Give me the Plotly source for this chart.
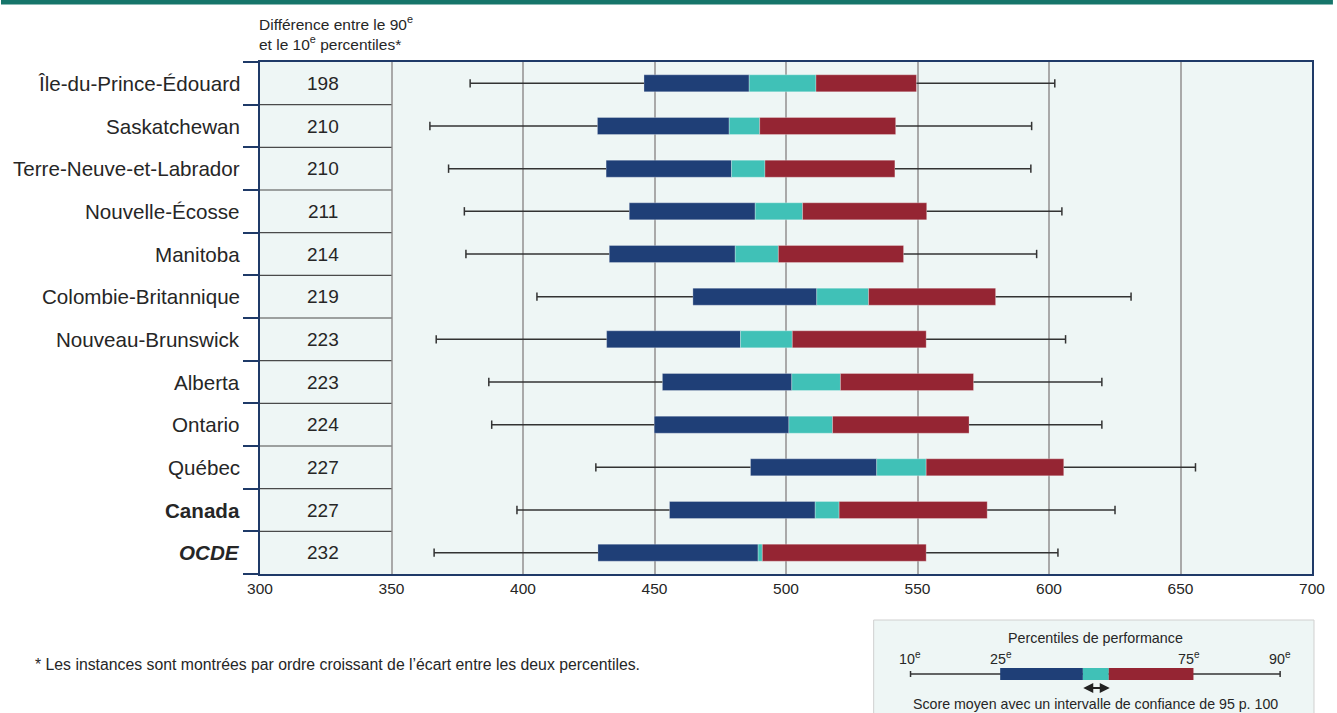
import plotly.graph_objects as go

# ---------------- data ----------------
labels = ["Île-du-Prince-Édouard", "Saskatchewan", "Terre-Neuve-et-Labrador",
          "Nouvelle-Écosse", "Manitoba", "Colombie-Britannique",
          "Nouveau-Brunswick", "Alberta", "Ontario", "Québec", "Canada", "OCDE"]
label_html = labels[:10] + ["<b>Canada</b>", "<b><i>OCDE</i></b>"]
diff = [198, 210, 210, 211, 214, 219, 223, 223, 224, 227, 227, 232]
p10 = [379.9, 364.6, 371.7, 377.7, 378.3, 405.3, 367.0, 387.0, 388.1, 427.7, 397.7, 366.2]
p25 = [446.0, 428.3, 431.6, 440.4, 432.8, 464.6, 431.8, 453.0, 449.9, 486.5, 455.7, 428.5]
ci_lo = [486.0, 478.4, 479.3, 488.3, 480.7, 511.7, 482.7, 502.2, 501.1, 534.5, 511.1, 489.4]
ci_hi = [511.4, 490.0, 492.0, 506.3, 497.1, 531.4, 502.4, 520.7, 517.7, 553.3, 520.2, 491.0]
p75 = [549.6, 541.7, 541.4, 553.5, 544.7, 579.7, 553.3, 571.3, 569.6, 605.6, 576.5, 553.3]
p90 = [602.2, 593.4, 593.1, 604.9, 595.3, 631.2, 606.3, 620.1, 620.1, 655.7, 625.1, 603.4]
x_ticks = [300, 350, 400, 450, 500, 550, 600, 650, 700]

# ---------------- style ----------------
W, H = 1337, 713
L, R, T, B = 260, 1316, 62, 574
BLUE = "#1F3F77"
TEAL = "#40C1B7"
RED = "#952533"
NAVY = "#1F3A68"
BG = "#EEF6F5"
FONT = "Liberation Sans"
TXT = "#262626"
WH = "#333333"

def px_x(px):
    return (px - L) / (R - L)

def px_y(py):
    return (B - py) / (B - T)

ys = list(range(len(labels)))

fig = go.Figure()

seg_line = dict(color="rgba(255,255,255,0.35)", width=0.8)
fig.add_trace(go.Bar(y=ys, x=[b - a for a, b in zip(p25, ci_lo)], base=p25,
                     orientation="h", width=0.4, marker=dict(color=BLUE, line=seg_line),
                     showlegend=False, hoverinfo="skip"))
fig.add_trace(go.Bar(y=ys, x=[b - a for a, b in zip(ci_lo, ci_hi)], base=ci_lo,
                     orientation="h", width=0.4, marker=dict(color=TEAL, line=seg_line),
                     showlegend=False, hoverinfo="skip"))
fig.add_trace(go.Bar(y=ys, x=[b - a for a, b in zip(ci_hi, p75)], base=ci_hi,
                     orientation="h", width=0.4, marker=dict(color=RED, line=seg_line),
                     showlegend=False, hoverinfo="skip"))

# whiskers
wx, wy = [], []
for i in ys:
    wx += [p10[i], p25[i], None, p75[i], p90[i], None]
    wy += [i, i, None, i, i, None]
fig.add_trace(go.Scatter(x=wx, y=wy, mode="lines", line=dict(color=WH, width=1.5),
                         showlegend=False, hoverinfo="skip"))
fig.add_trace(go.Scatter(x=p10 + p90, y=ys + ys, mode="markers",
                         marker=dict(symbol="line-ns", size=6, line=dict(color=WH, width=1.5)),
                         showlegend=False, hoverinfo="skip"))

fig.update_layout(
    width=W, height=H,
    margin=dict(l=L, r=W - R, t=T, b=H - B, pad=0),
    paper_bgcolor="white", plot_bgcolor=BG,
    barmode="overlay",
    font=dict(family=FONT, color=TXT),
    xaxis=dict(range=[300, 700], tickvals=x_ticks, ticktext=[str(v) for v in x_ticks],
               showgrid=True, gridcolor="#A9A9A9", gridwidth=1.5,
               showline=True, linecolor=NAVY, linewidth=1.5, mirror=True,
               ticks="", tickfont=dict(size=15.5, color=TXT), zeroline=False),
    yaxis=dict(range=[len(labels) - 0.5, -0.5], tickmode="array",
               tickvals=[k - 0.5 for k in range(len(labels) + 1)],
               showticklabels=False,
               ticks="outside", ticklen=15, tickcolor=NAVY, tickwidth=1.5,
               showgrid=False, showline=True, linecolor=NAVY, linewidth=1.5, mirror=True,
               zeroline=False),
)

shapes = []
# separators in left table column
for k in range(1, len(labels)):
    shapes.append(dict(type="line", xref="x", yref="y", x0=300, x1=350, y0=k - 0.5, y1=k - 0.5,
                       line=dict(color="#4A4A4A", width=1.2)))
# top banner
shapes.append(dict(type="rect", xref="paper", yref="paper", x0=px_x(0), x1=px_x(W),
                   y0=px_y(4.5), y1=px_y(0), fillcolor="#16756A", line=dict(width=0), layer="above"))
# legend box
shapes.append(dict(type="rect", xref="paper", yref="paper", x0=px_x(876), x1=px_x(1318),
                   y0=px_y(716), y1=px_y(620), fillcolor=BG, line=dict(color="#D0D0D0", width=1)))
lg_y = 674
shapes.append(dict(type="line", xref="paper", yref="paper", x0=px_x(913), x1=px_x(1284),
                   y0=px_y(lg_y), y1=px_y(lg_y), line=dict(color=WH, width=1.5)))
for cx in (913, 1284):
    shapes.append(dict(type="line", xref="paper", yref="paper", x0=px_x(cx), x1=px_x(cx),
                       y0=px_y(lg_y - 3), y1=px_y(lg_y + 3), line=dict(color=WH, width=1.5)))
for x0, x1, c in ((1003, 1086, BLUE), (1086, 1112, TEAL), (1112, 1197, RED)):
    shapes.append(dict(type="rect", xref="paper", yref="paper", x0=px_x(x0), x1=px_x(x1),
                       y0=px_y(680), y1=px_y(668), fillcolor=c, line=dict(width=0)))
fig.update_layout(shapes=shapes)

ann = []
for i in ys:
    ann.append(dict(xref="paper", yref="y", x=0, y=i, xshift=-18, xanchor="right", yanchor="middle",
                    text=label_html[i], showarrow=False, font=dict(size=20.6, color=TXT)))
    ann.append(dict(xref="x", yref="y", x=324, y=i, xanchor="center", yanchor="middle",
                    text=str(diff[i]), showarrow=False, font=dict(size=19, color=TXT)))
ann.append(dict(xref="paper", yref="paper", x=px_x(257), y=px_y(11), xanchor="left", yanchor="top",
                align="left", showarrow=False, font=dict(size=15.5, color=TXT),
                text="Différence entre le 90<sup>e</sup><br>et le 10<sup>e</sup> percentiles*"))
ann.append(dict(xref="paper", yref="paper", x=px_x(32), y=px_y(664), xanchor="left", yanchor="middle",
                showarrow=False, font=dict(size=15.8, color=TXT),
                text="* Les instances sont montrées par ordre croissant de l’écart entre les deux percentiles."))
ann.append(dict(xref="paper", yref="paper", x=px_x(1099), y=px_y(638), xanchor="center", yanchor="middle",
                showarrow=False, font=dict(size=14.3, color=TXT), text="Percentiles de performance"))
for cx, t in ((912, "10"), (1004, "25"), (1193, "75"), (1284, "90")):
    ann.append(dict(xref="paper", yref="paper", x=px_x(cx), y=px_y(658), xanchor="center", yanchor="middle",
                    showarrow=False, font=dict(size=14.3, color=TXT), text=t + "<sup>e</sup>"))
ann.append(dict(xref="paper", yref="paper", x=px_x(1099), y=px_y(704), xanchor="center", yanchor="middle",
                showarrow=False, font=dict(size=14.2, color=TXT),
                text="Score moyen avec un intervalle de confiance de 95 p. 100"))
ann.append(dict(xref="paper", yref="paper", x=px_x(1113), y=px_y(688), ax=-28, ay=0,
                text="", showarrow=True, arrowside="end+start", arrowhead=2, arrowsize=1,
                arrowwidth=2, arrowcolor="#222222"))
fig.update_layout(annotations=ann)

fig.write_html("out.html")
